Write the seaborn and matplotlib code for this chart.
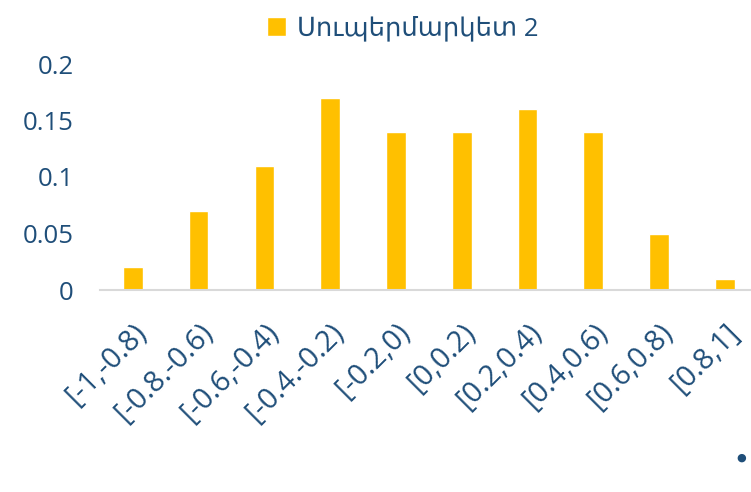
import pandas as pd
import matplotlib.pyplot as plt
import seaborn as sns

# Data
intervals = ['[-1,-0.8)', '[-0.8.-0.6)', '[-0.6,-0.4)', '[-0.4.-0.2)', '[-0.2,0)',
             '[0,0.2)', '[0.2,0.4)', '[0.4,0.6)', '[0.6,0.8)', '[0.8,1]']
share = [0.02, 0.07, 0.11, 0.17, 0.14, 0.14, 0.16, 0.14, 0.05, 0.01]
series_name = 'Սուպերմարկետ 2'
y_ticks = [0, 0.05, 0.1, 0.15, 0.2]
y_tick_labels = ['0', '0.05', '0.1', '0.15', '0.2']

df = pd.DataFrame({'interval': intervals, 'share': share})

navy = '#1F4E79'
gold = '#FFC000'

sns.set_style('white')
plt.rcParams['font.family'] = ['Open Sans', 'DejaVu Sans']

fig = plt.figure(figsize=(7.51, 4.92), dpi=100)
ax = fig.add_axes([100 / 751, 1 - 290 / 492, 651 / 751, 226 / 492])

sns.barplot(data=df, x='interval', y='share', color=gold, width=0.3,
            saturation=1, label=series_name, ax=ax)

ax.set_ylim(0, 0.2)
ax.set_xlim(-0.5, 9.4)
ax.set_yticks(y_ticks)
ax.set_yticklabels(y_tick_labels)
ax.tick_params(axis='y', length=0, pad=19, labelsize=18.5, labelcolor=navy)
ax.tick_params(axis='x', length=0, pad=20, labelsize=21, labelcolor=navy)
plt.setp(ax.get_xticklabels(), rotation=45, ha='right', rotation_mode='anchor')
ax.set_xlabel('')
ax.set_ylabel('')

for side in ['top', 'right', 'left']:
    ax.spines[side].set_visible(False)
ax.spines['bottom'].set_color('#D9D9D9')
ax.spines['bottom'].set_linewidth(1.5)

leg = ax.legend(loc='upper center', bbox_to_anchor=(0.5 - 0.035, 1.315), frameon=False,
                fontsize=18.5, handlelength=0.75, handleheight=0.75, handletextpad=0.45)
for t in leg.get_texts():
    t.set_color(navy)

fig.text(741 / 751, 1 - 458 / 492, '●', color=navy, fontsize=8, ha='center', va='center')

plt.savefig('out.png', dpi=100)
